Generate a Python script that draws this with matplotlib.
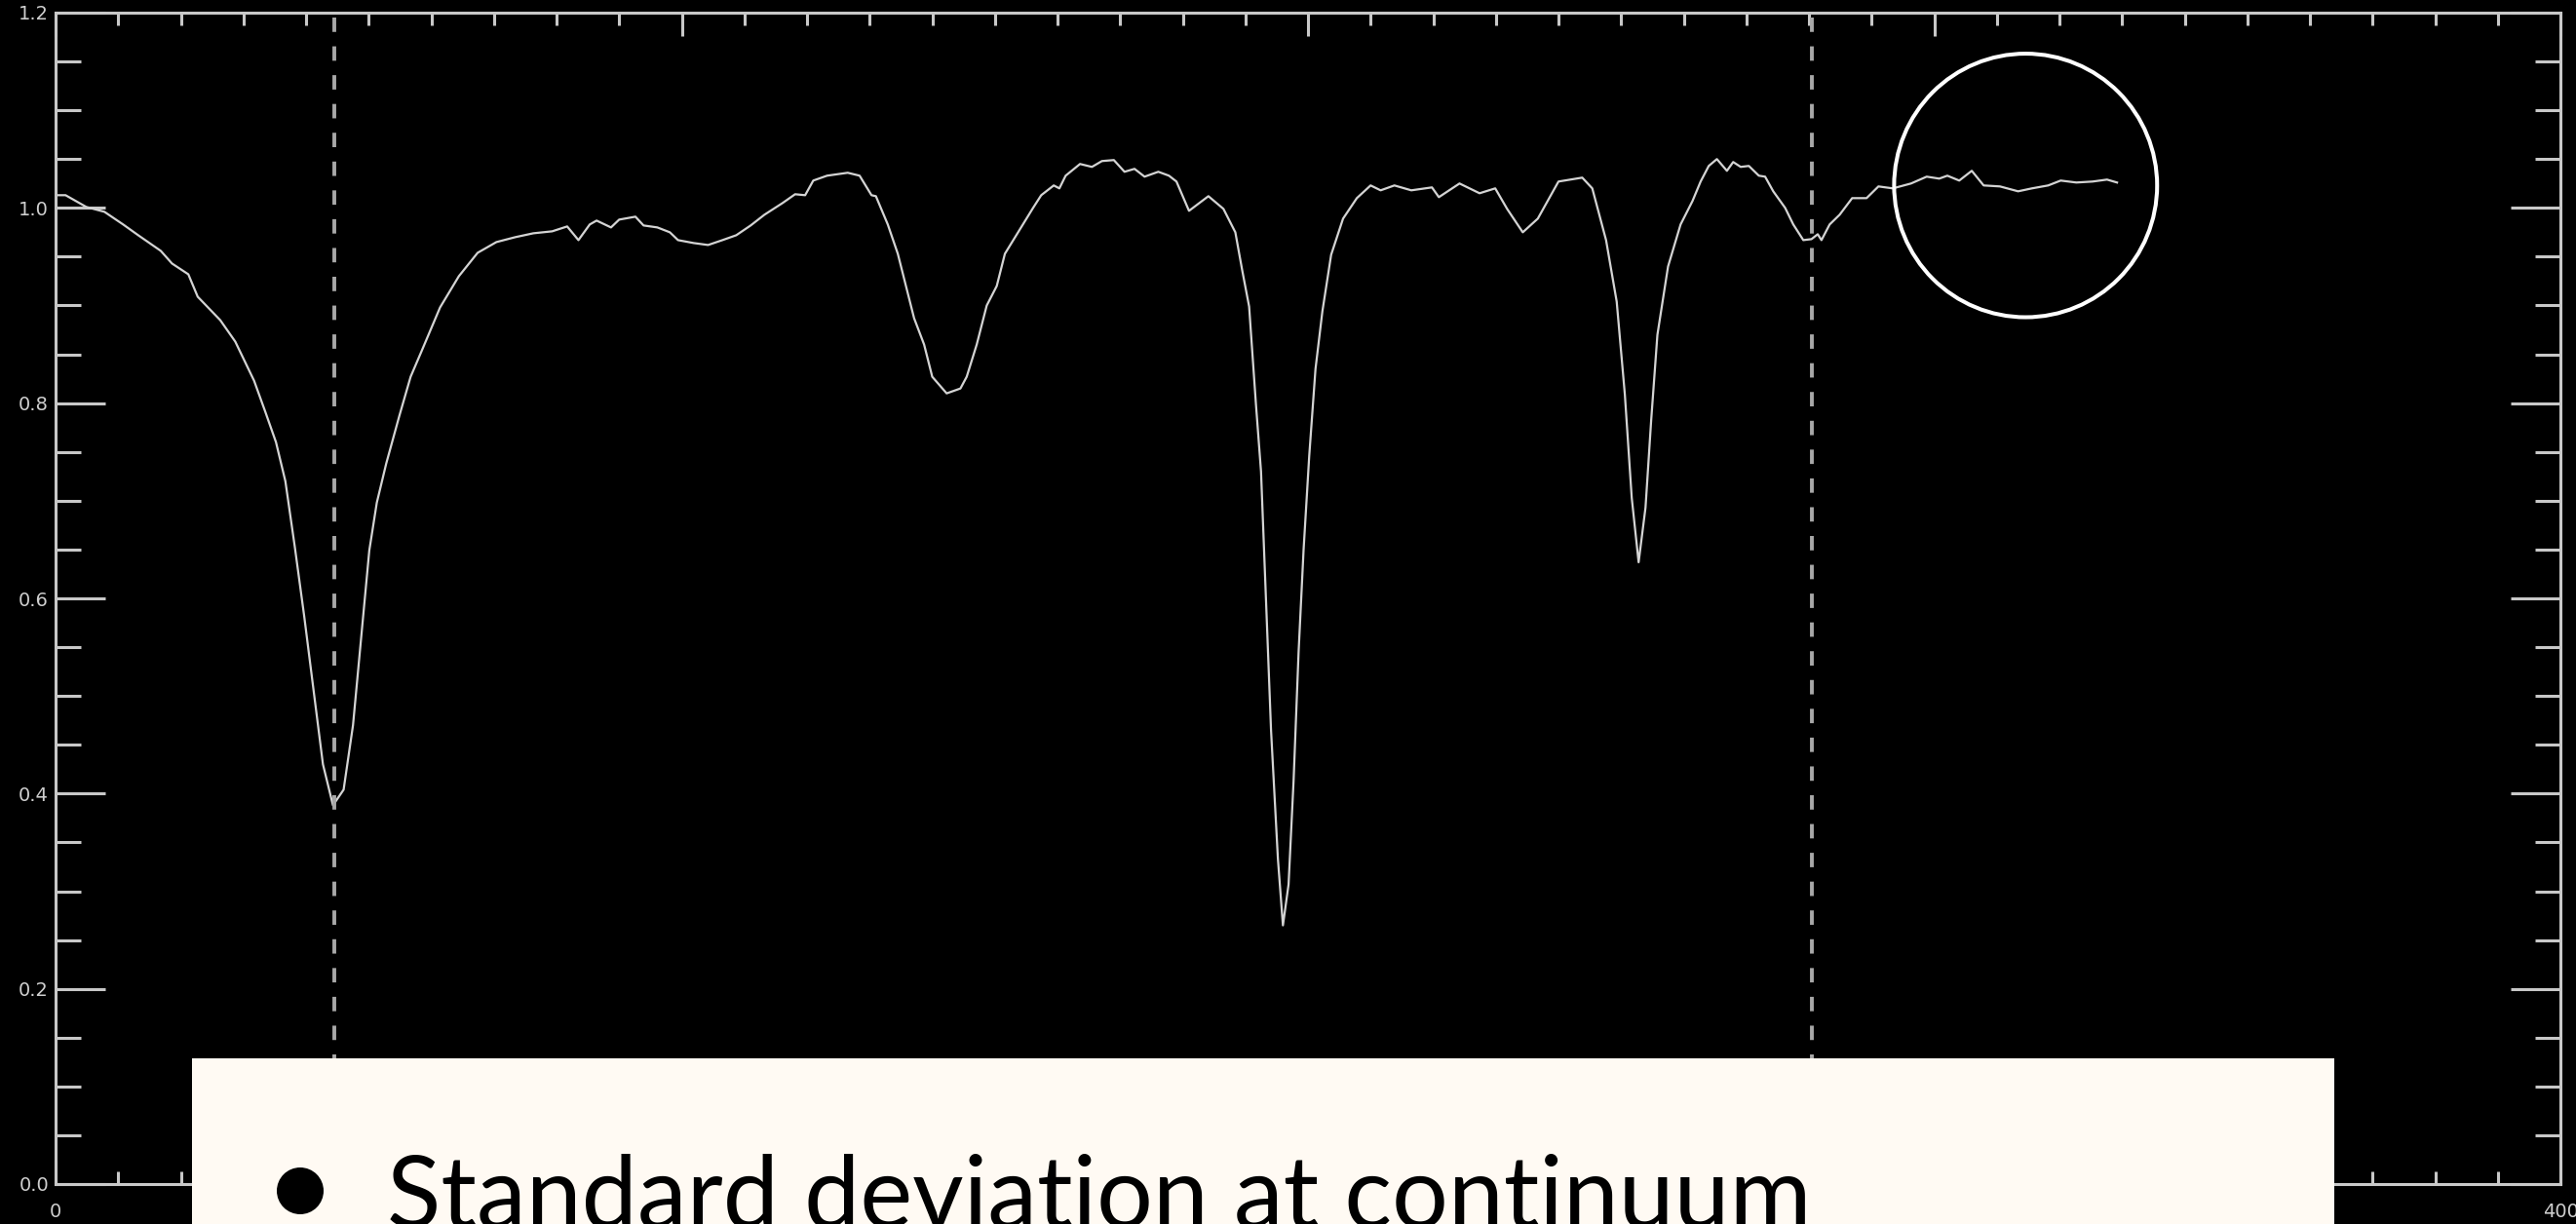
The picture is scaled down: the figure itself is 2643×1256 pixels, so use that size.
import matplotlib
matplotlib.use("Agg")
import matplotlib.pyplot as plt
from matplotlib.patches import Ellipse, Rectangle, Circle
from matplotlib.ticker import MultipleLocator

# Normalised spectrum: pixel index vs. relative intensity
pixel = [
    0.1, 1.6, 4.9, 7.8, 10.8, 13.2, 16.8, 18.6, 21.2, 22.7, 26.3, 28.7, 31.7,
    33.5, 35.2, 36.7, 38.2, 39.7, 41.2, 42.7, 44.3, 46.0, 47.5, 49.0, 50.1,
    51.3, 52.8, 54.9, 56.7, 58.5, 61.4, 64.4, 67.4, 70.4, 73.4, 76.3, 79.3,
    81.7, 83.5, 85.3, 86.4, 88.7, 90.0, 92.6, 93.9, 96.1, 98.1, 99.4, 101.9,
    104.2, 106.5, 108.7, 111.0, 113.2, 116.1, 118.1, 119.7, 121.0, 123.2,
    126.5, 128.4, 130.3, 131.0, 132.9, 134.5, 135.8, 137.1, 138.7, 140.0,
    142.3, 144.5, 145.5, 147.1, 148.7, 150.3, 151.6, 153.9, 156.1, 157.4,
    159.4, 160.3, 161.3, 163.6, 165.5, 167.1, 169.0, 170.7, 172.3, 173.9,
    176.1, 177.8, 179.0, 181.0, 184.1, 186.5, 188.4, 189.5, 190.6, 191.7,
    192.5, 193.3, 194.1, 195.2, 196.0, 196.9, 197.7, 198.5, 199.3, 200.2,
    201.2, 202.3, 203.7, 205.6, 207.8, 210.0, 211.6, 213.8, 216.5, 219.8,
    220.9, 224.2, 227.4, 229.9, 231.8, 234.3, 236.7, 240.0, 243.8, 245.4,
    247.6, 249.3, 250.6, 251.7, 252.8, 253.9, 254.8, 255.8, 257.5, 259.5,
    261.4, 262.7, 264.0, 265.3, 266.9, 267.9, 269.1, 270.4, 272.0, 273.0,
    274.3, 276.2, 277.5, 279.1, 280.4, 281.4, 282.0, 283.3, 284.9, 286.9,
    289.2, 291.1, 293.4, 296.3, 298.8, 300.8, 302.1, 304.0, 306.0, 307.9,
    310.5, 313.4, 315.6, 318.2, 320.2, 322.7, 325.3, 327.6, 329.2,
]
intensity = [
    1.013, 1.013, 1.001, 0.996, 0.983, 0.972, 0.956, 0.943, 0.932, 0.909,
    0.885, 0.863, 0.823, 0.791, 0.760, 0.720, 0.653, 0.582, 0.506, 0.430,
    0.388, 0.404, 0.470, 0.573, 0.649, 0.698, 0.738, 0.787, 0.827, 0.854,
    0.898, 0.930, 0.954, 0.965, 0.970, 0.974, 0.976, 0.981, 0.967, 0.983,
    0.987, 0.980, 0.988, 0.991, 0.982, 0.980, 0.975, 0.967, 0.964, 0.962,
    0.967, 0.972, 0.982, 0.993, 1.005, 1.014, 1.013, 1.028, 1.033, 1.036,
    1.033, 1.013, 1.012, 0.983, 0.953, 0.920, 0.887, 0.860, 0.827, 0.810,
    0.815, 0.827, 0.860, 0.900, 0.920, 0.953, 0.977, 1.000, 1.013, 1.023,
    1.020, 1.033, 1.045, 1.042, 1.048, 1.049, 1.037, 1.040, 1.032, 1.037,
    1.033, 1.027, 0.997, 1.012, 0.999, 0.975, 0.936, 0.899, 0.798, 0.730,
    0.598, 0.465, 0.333, 0.265, 0.307, 0.413, 0.545, 0.650, 0.746, 0.835,
    0.894, 0.952, 0.989, 1.010, 1.023, 1.018, 1.023, 1.018, 1.021, 1.011,
    1.025, 1.015, 1.020, 0.999, 0.975, 0.989, 1.027, 1.031, 1.020, 0.967,
    0.904, 0.809, 0.703, 0.637, 0.693, 0.782, 0.870, 0.940, 0.983, 1.007,
    1.027, 1.043, 1.050, 1.038, 1.047, 1.042, 1.043, 1.033, 1.032, 1.017,
    1.000, 0.983, 0.967, 0.968, 0.973, 0.967, 0.983, 0.993, 1.010, 1.010,
    1.022, 1.020, 1.025, 1.032, 1.030, 1.033, 1.028, 1.038, 1.023, 1.022,
    1.017, 1.020, 1.023, 1.028, 1.026, 1.027, 1.029, 1.026,
]

# Reference line positions (pixel index)
line_positions = [44.5, 280.5]

x_ticks = [0, 100, 200, 300, 400]
# the inner labels sit under the caption panel, so only the ends are written
x_tick_labels = ["0", "", "", "", "400"]
y_ticks = [0.0, 0.2, 0.4, 0.6, 0.8, 1.0, 1.2]
y_tick_labels = ["0.0", "0.2", "0.4", "0.6", "0.8", "1.0", "1.2"]

# Continuum region singled out by the ring
continuum_center = (314.6, 1.023)
continuum_span = (42.0, 0.27)

bullet_text = "Standard deviation at continuum"

W, H, DPI = 2643, 1256, 100
fig = plt.figure(figsize=(W / DPI, H / DPI), dpi=DPI, facecolor="black")

ax = fig.add_axes([57 / W, 41 / H, 2570 / W, 1202 / H])
ax.set_facecolor("black")
ax.plot(pixel, intensity, color="#d4d4d4", lw=1.6)
for xv in line_positions:
    ax.axvline(xv, color="#a8a8a8", lw=2.8, linestyle=(0, (3.8, 3.8)))

ax.set_xlim(0, 400)
ax.set_ylim(0, 1.2)
ax.set_xticks(x_ticks)
ax.set_xticklabels(x_tick_labels)
ax.set_yticks(y_ticks)
ax.set_yticklabels(y_tick_labels)
ax.xaxis.set_minor_locator(MultipleLocator(10))
ax.yaxis.set_minor_locator(MultipleLocator(0.05))

frame = "#c8c8c8"
for sp in ax.spines.values():
    sp.set_color(frame)
    sp.set_linewidth(2.2)
ax.tick_params(which="both", direction="in", top=True, right=True,
               color=frame, width=2.2, labelcolor="#cfcfcf", labelsize=14)
ax.xaxis.set_tick_params(which="major", length=17.5, pad=14)
ax.xaxis.set_tick_params(which="minor", length=9.5)
ax.yaxis.set_tick_params(which="major", length=37, pad=5)
ax.yaxis.set_tick_params(which="minor", length=19)

ring = Ellipse(continuum_center, width=continuum_span[0], height=continuum_span[1],
               fill=False, edgecolor="white", lw=2.9, clip_on=False, zorder=5)
ax.add_patch(ring)

# Caption panel in figure pixel coordinates
ov = fig.add_axes([0, 0, 1, 1])
ov.set_xlim(0, W)
ov.set_ylim(H, 0)
ov.axis("off")
ov.patch.set_alpha(0)
ov.add_patch(Rectangle((197, 1086), 2395 - 197, H - 1086 + 10,
                       facecolor="#fffaf3", edgecolor="none"))
ov.add_patch(Circle((308, 1222), 24, facecolor="black", edgecolor="none"))
txt = ov.text(397, 1183, bullet_text, family=["Lato", "DejaVu Sans"],
              fontsize=100, color="black", ha="left", va="top")
fig.canvas.draw()
w = txt.get_window_extent(fig.canvas.get_renderer()).width
txt.set_fontsize(100 * 1461 / w)

fig.savefig("out.png", dpi=DPI, facecolor="black")
